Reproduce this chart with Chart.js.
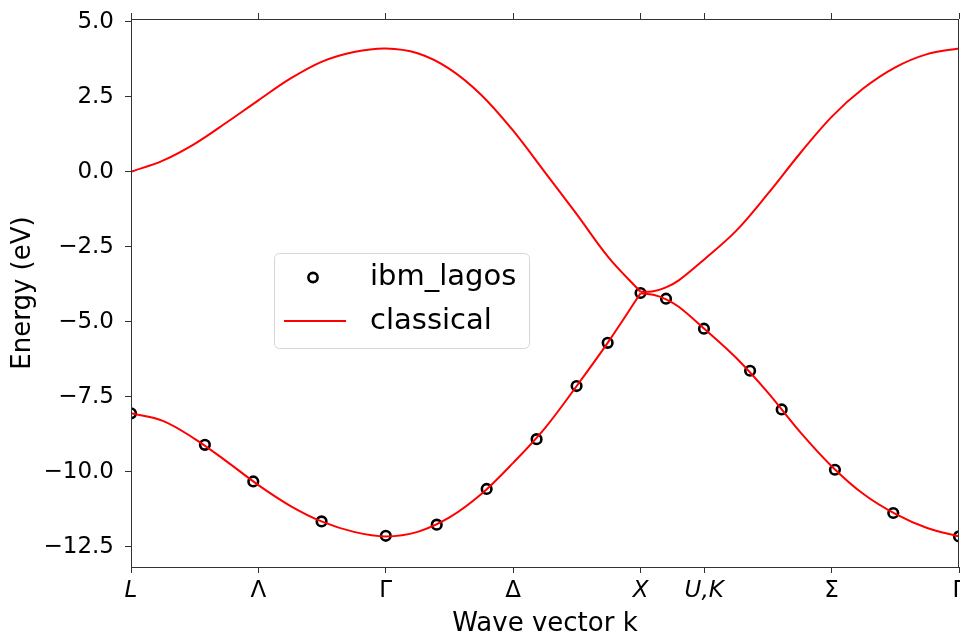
<!DOCTYPE html>
<html><head><meta charset="utf-8">
<script src="https://cdn.jsdelivr.net/npm/chart.js@4.4.0/dist/chart.umd.min.js"></script>
<style>html,body{margin:0;padding:0;background:#fff;}#wrap{width:960px;height:637px;}</style>
</head><body><div id="wrap"><canvas id="c" width="960" height="637"></canvas></div>
<script>
// ---- data ----
const kTickValues = [0, 0.5, 1, 1.5, 2, 2.25, 2.75, 3.25];
const kTickLabels = ['L', 'Λ', 'Γ', 'Δ', 'X', 'U,K', 'Σ', 'Γ'];
const kTickItalic = [true, false, false, false, true, true, false, false];
const energyTicks = [5, 2.5, 0, -2.5, -5, -7.5, -10, -12.5];

// classical bands, path L -> Γ -> X
const kPathA = [0, 0.125, 0.25, 0.375, 0.5, 0.625, 0.75, 0.875, 1, 1.125, 1.25, 1.375, 1.5, 1.625, 1.75, 1.875, 2];
const upperBandA = [0.0, 0.37, 0.93, 1.64, 2.38, 3.1, 3.67, 3.99, 4.11, 3.95, 3.43, 2.56, 1.37, -0.02, -1.42, -2.86, -4.0];
const lowerBandA = [-8.05, -8.3, -8.9, -9.65, -10.44, -11.13, -11.66, -12.0, -12.15, -12.0, -11.52, -10.74, -9.7, -8.54, -7.13, -5.65, -4.05];
// classical bands, path X -> U,K -> Γ
const kPathB = [2, 2.05, 2.1, 2.15, 2.25, 2.375, 2.5, 2.625, 2.75, 2.875, 3, 3.125, 3.25];
const upperBandB = [-4.0, -3.98, -3.85, -3.62, -2.92, -1.97, -0.73, 0.6, 1.83, 2.78, 3.48, 3.92, 4.11];
const lowerBandB = [-4.05, -4.1, -4.25, -4.5, -5.23, -6.2, -7.36, -8.66, -9.81, -10.74, -11.4, -11.87, -12.15];

// ibm_lagos results
const kQuantum = [0, 0.29, 0.48, 0.748, 1.0, 1.2, 1.396, 1.592, 1.749, 1.871, 2.0, 2.1, 2.249, 2.43, 2.554, 2.763, 2.992, 3.25];
const eQuantum = [-8.05, -9.1, -10.32, -11.65, -12.13, -11.76, -10.57, -8.91, -7.14, -5.7, -4.04, -4.23, -5.23, -6.63, -7.92, -9.93, -11.37, -12.15];

// ---- helpers ----
const pts = (xs, ys) => xs.map((x, i) => ({x: x, y: ys[i]}));
const FONT = 'DejaVu Sans';
const AX = '#333';

const lineDs = (label, xs, ys) => ({
  label: label, data: pts(xs, ys), borderColor: '#ff0000', backgroundColor: '#ff0000',
  borderWidth: 2, pointRadius: 0, tension: 0.35, fill: false, order: 1, showLine: true, clip: 0
});

const framePlugin = {
  id: 'frame',
  afterDatasetsDraw(chart) {
    const {ctx, chartArea: a} = chart;
    ctx.save();
    ctx.strokeStyle = AX; ctx.lineWidth = 1;
    ctx.strokeRect(a.left + 0.5, a.top + 0.5, a.right - a.left - 1, a.bottom - a.top);
    ctx.restore();
  }
};

const legendPlugin = {
  id: 'boxLegend',
  afterDraw(chart) {
    const {ctx, chartArea: a} = chart;
    const q = chart.data.datasets[0], c = chart.data.datasets[1];
    const bx = a.left + 143, by = a.top + 234, bw = 255, bh = 95;
    ctx.save();
    ctx.globalAlpha = 0.8; ctx.fillStyle = '#fff';
    ctx.beginPath(); ctx.roundRect(bx + 0.5, by + 0.5, bw, bh, 5); ctx.fill();
    ctx.globalAlpha = 1; ctx.strokeStyle = '#d6d6d6'; ctx.lineWidth = 1; ctx.stroke();
    ctx.beginPath(); ctx.arc(bx + 39, by + 24.5, 4.6, 0, Math.PI * 2);
    ctx.strokeStyle = q.borderColor; ctx.lineWidth = 2.6; ctx.stroke();
    ctx.beginPath(); ctx.moveTo(bx + 10, by + 68); ctx.lineTo(bx + 72, by + 68);
    ctx.strokeStyle = c.borderColor; ctx.lineWidth = 2; ctx.stroke();
    ctx.fillStyle = '#000'; ctx.font = '29px "' + FONT + '"'; ctx.textBaseline = 'middle'; ctx.textAlign = 'left';
    ctx.fillText(q.label, bx + 96, by + 24);
    ctx.fillText(c.label, bx + 96, by + 68);
    ctx.restore();
  }
};

const xTickSetter = (s) => { s.ticks = kTickValues.map(v => ({value: v})); };
const noPadH = (h) => (s) => { s.height = h; s.paddingLeft = 0; s.paddingRight = 0; };

new Chart(document.getElementById('c'), {
  type: 'line',
  data: {
    datasets: [
      {label: 'ibm_lagos', data: pts(kQuantum, eQuantum), showLine: false, borderColor: '#000',
       backgroundColor: 'rgba(0,0,0,0)', pointRadius: 4.8, pointBorderWidth: 2.6, pointStyle: 'circle',
       pointBackgroundColor: 'rgba(0,0,0,0)', pointBorderColor: '#000', order: 2, clip: 0},
      lineDs('classical', kPathA, upperBandA),
      lineDs('classical', kPathA, lowerBandA),
      lineDs('classical', kPathB, upperBandB),
      lineDs('classical', kPathB, lowerBandB)
    ]
  },
  options: {
    responsive: false, animation: false, devicePixelRatio: 1,
    layout: {autoPadding: false, padding: {left: 0, right: 1, top: 0, bottom: 0}},
    plugins: {legend: {display: false}, tooltip: {enabled: false}},
    scales: {
      x: {
        type: 'linear', position: 'bottom', min: 0, max: 3.25,
        afterBuildTicks: xTickSetter,
        afterFit: noPadH(70),
        border: {display: false},
        grid: {display: true, drawOnChartArea: false, drawTicks: true, tickLength: 6, color: AX, lineWidth: 1},
        ticks: {
          autoSkip: false, maxRotation: 0, padding: 4, color: '#000',
          callback: (v, i) => kTickLabels[i],
          font: (ctx) => ({family: FONT, size: 23, style: kTickItalic[ctx.index] ? 'italic' : 'normal'})
        },
        title: {display: true, text: 'Wave vector k', color: '#000', font: {family: FONT, size: 26, lineHeight: 1.0}, padding: {top: 0, bottom: 0}}
      },
      x2: {
        type: 'linear', position: 'top', min: 0, max: 3.25,
        afterBuildTicks: xTickSetter,
        afterFit: noPadH(19),
        border: {display: false},
        grid: {display: true, drawOnChartArea: false, drawTicks: true, tickLength: 6, color: AX, lineWidth: 1},
        ticks: {display: false}
      },
      y: {
        type: 'linear', position: 'left', min: -13.17, max: 5.09,
        afterBuildTicks: (s) => { s.ticks = energyTicks.map(v => ({value: v})); },
        afterFit: (s) => { s.width = 131; s.paddingTop = 0; s.paddingBottom = 0; },
        border: {display: false},
        grid: {display: true, drawOnChartArea: false, drawTicks: true, tickLength: 6, color: AX, lineWidth: 1},
        ticks: {
          padding: 11, color: '#000', font: {family: FONT, size: 23},
          callback: (v) => v.toFixed(1).replace('-', '\u2212')
        },
        title: {display: true, text: 'Energy (eV)', color: '#000', font: {family: FONT, size: 26}, padding: {top: 8, bottom: 0}}
      }
    }
  },
  plugins: [framePlugin, legendPlugin]
});
</script></body></html>
